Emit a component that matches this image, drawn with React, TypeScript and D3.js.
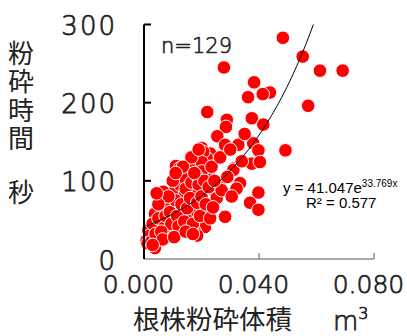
import React from "react";
import * as d3 from "d3";

// Data (root volume m3, crushing time s)
const volume: number[] = [
  0.0483, 0.0552, 0.0612, 0.0691, 0.0278, 0.0383, 0.0438, 0.0413, 0.0362, 0.0571,
  0.0220, 0.0375, 0.0288, 0.0285, 0.0415, 0.0255, 0.0282, 0.0328, 0.0380, 0.0398,
  0.0492, 0.0201, 0.0230, 0.0218, 0.0169, 0.0111, 0.0375, 0.0403, 0.0313, 0.0206,
  0.0311, 0.0334, 0.0322, 0.0398, 0.0369, 0.0398, 0.0282, 0.0247, 0.0253, 0.0212,
  0.0212, 0.0224, 0.0201, 0.0175, 0.0201, 0.0125, 0.0154, 0.0201, 0.0154, 0.0102,
  0.0067, 0.0143, 0.0172, 0.0102, 0.0067, 0.0137, 0.0172, 0.0038, 0.0062, 0.0102,
  0.0015, 0.0044, 0.0102, 0.0177, 0.0009, 0.0038, 0.0085, 0.0148, 0.0020, 0.0030,
  0.0050, 0.0055, 0.0070, 0.0075, 0.0080, 0.0090, 0.0095, 0.0110, 0.0115, 0.0120,
  0.0125, 0.0130, 0.0135, 0.0140, 0.0145, 0.0150, 0.0160, 0.0165, 0.0170, 0.0180,
  0.0185, 0.0190, 0.0195, 0.0200, 0.0210, 0.0215, 0.0225, 0.0230, 0.0235, 0.0240,
  0.0260, 0.0265, 0.0270, 0.0290, 0.0300, 0.0305, 0.0340, 0.0350, 0.0012, 0.0025,
  0.0040, 0.0060, 0.0065, 0.0085, 0.0100, 0.0105, 0.0145, 0.0155, 0.0165, 0.0190,
  0.0135, 0.0050, 0.0044, 0.0110, 0.0175, 0.0245, 0.0185, 0.0030, 0.0170,
];
const seconds: number[] = [
  283, 259, 241, 241, 245, 226, 213, 211, 207, 196,
  188, 180, 178, 169, 172, 157, 146, 146, 148, 139,
  139, 142, 135, 129, 127, 119, 122, 124, 116, 137,
  114, 97, 90, 85, 72, 63, 54, 86, 78, 61,
  41, 110, 120, 124, 124, 116, 112, 112, 101, 86,
  86, 84, 88, 67, 65, 61, 61, 58, 46, 50,
  37, 37, 37, 35, 24, 14, 29, 50, 30, 45,
  52, 28, 40, 55, 72, 60, 45, 75, 55, 42,
  95, 70, 105, 48, 90, 65, 78, 98, 45, 108,
  72, 95, 55, 80, 100, 70, 92, 52, 118, 66,
  98, 130, 88, 105, 140, 80, 125, 160, 20, 22,
  32, 35, 25, 80, 100, 28, 35, 120, 130, 140,
  118, 70, 84, 110, 110, 100, 30, 18, 32,
];

const xTicks: number[] = [0, 0.04, 0.08];
const xTickLabels: string[] = ["0.000", "0.040", "0.080"];
const yTicks: number[] = [0, 100, 200, 300];
const yTickLabels: string[] = ["0", "100", "200", "300"];
const yTitle = "粉砕時間";
const yUnit = "秒";
const xTitle = "根株粉砕体積";
const nLabel = "n=129";
const fitA = 41.047;
const fitB = 33.769;
const r2Label = "R² = 0.577";

export default function App() {
  const x = d3.scaleLinear().domain([0, 0.08]).range([144, 374]);
  const y = d3.scaleLinear().domain([0, 300]).range([259, 24.5]);

  const xMin = d3.min(volume) as number;
  const xTop = Math.log(300 / fitA) / fitB;
  const curvePts: [number, number][] = d3
    .range(0, 101)
    .map((i) => {
      const v = xMin + ((xTop - xMin) * i) / 100;
      return [v, fitA * Math.exp(fitB * v)];
    });
  const line = d3
    .line<[number, number]>()
    .x((d) => x(d[0]))
    .y((d) => y(d[1]));

  const points = volume.map((v, i) => ({ v, s: seconds[i] }));
  const digitFont = "'DejaVu Sans', sans-serif";
  const cjkFont = "'Noto Sans CJK JP', sans-serif";
  const thin = { fontWeight: 200, stroke: "#222", strokeWidth: 0.75 } as const;

  return (
    <svg
      width={407}
      height={336}
      style={{ position: "absolute", left: 0, top: 0, background: "#fff" }}
    >
      {/* y axis title (vertical) */}
      <text
        x={21}
        y={40}
        fontSize={26}
        fontFamily={cjkFont}
        fill="#222"
        style={{ writingMode: "vertical-rl" as any, letterSpacing: "2.5px" }}
      >
        {yTitle}
      </text>
      <text x={21} y={202} textAnchor="middle" fontSize={26} fontFamily={cjkFont} fill="#222">
        {yUnit}
      </text>

      {/* y tick labels */}
      {yTicks.map((t, i) => (
        <text
          key={t}
          x={117}
          y={y(t) + 10.5}
          textAnchor="end"
          fontSize={26}
          letterSpacing={2}
          fontFamily={digitFont}
          fill="#222"
          {...thin}
        >
          {yTickLabels[i]}
        </text>
      ))}

      {/* x tick labels */}
      {xTicks.map((t, i) => (
        <text
          key={t}
          x={x(t) - 5.5}
          y={293}
          textAnchor="middle"
          fontSize={25}
          fontFamily={digitFont}
          fill="#222"
          {...thin}
        >
          {xTickLabels[i]}
        </text>
      ))}

      {/* x axis title */}
      <text x={133} y={328.5} fontSize={26.5} fontFamily={cjkFont} fill="#222">
        {xTitle}
      </text>
      <text x={333} y={330} fontSize={26} fontFamily={digitFont} fill="#222" {...thin}>
        m
        <tspan fontSize={16} dy={-11}>
          3
        </tspan>
      </text>

      {/* x axis */}
      <line x1={x(0)} x2={x(0.08)} y1={y(0)} y2={y(0)} stroke="#8c8c8c" strokeWidth={1.5} />
      {xTicks.slice(1).map((t) => (
        <line key={t} x1={x(t)} x2={x(t)} y1={y(0)} y2={y(0) - 6} stroke="#8c8c8c" strokeWidth={1.5} />
      ))}

      {/* points */}
      {points.map((p, i) => (
        <circle
          key={i}
          cx={x(p.v)}
          cy={y(p.s)}
          r={6.8}
          fill="#ff0000"
          stroke="#ffffff"
          strokeWidth={1}
        />
      ))}

      {/* trend line */}
      <path d={line(curvePts) || ""} fill="none" stroke="#000" strokeWidth={1} />

      {/* y axis */}
      <line x1={x(0)} x2={x(0)} y1={y(300)} y2={y(0)} stroke="#000" strokeWidth={2} />
      {yTicks.slice(1).map((t) => (
        <line key={t} x1={x(0)} x2={x(0) + 7} y1={y(t)} y2={y(t)} stroke="#000" strokeWidth={2} />
      ))}

      {/* annotations */}
      <text x={161} y={53} fontSize={21} fontFamily={digitFont} fill="#222" {...thin} strokeWidth={0.6}>
        {nLabel}
      </text>
      <text x={283} y={193} fontSize={15} fontFamily="'Liberation Sans', Arial, sans-serif" fill="#000">
        {`y = ${fitA}e`}
        <tspan fontSize={10} dy={-6}>
          {`${fitB}x`}
        </tspan>
      </text>
      <text x={306} y={208} fontSize={15} fontFamily="'Liberation Sans', Arial, sans-serif" fill="#000">
        {r2Label}
      </text>
    </svg>
  );
}
